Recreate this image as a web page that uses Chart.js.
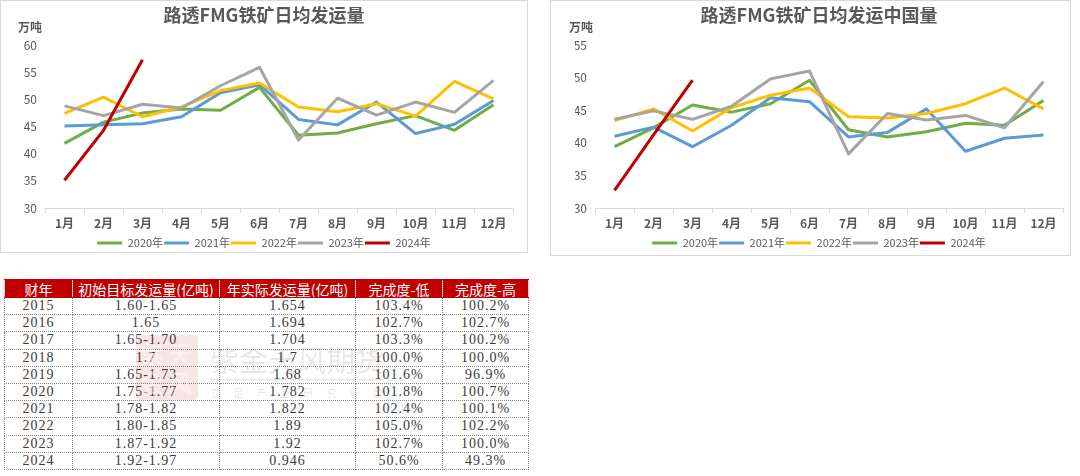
<!DOCTYPE html>
<html>
<head>
<meta charset="utf-8">
<script src="https://cdn.jsdelivr.net/npm/chart.js@4.4.1/dist/chart.umd.min.js"></script>
<style>
html,body{margin:0;padding:0;background:#fff;width:1080px;height:476px;overflow:hidden;position:relative;font-family:"Noto Sans CJK SC","Noto Sans",sans-serif;}
.panel{position:absolute;border:1px solid #D9D9D9;box-sizing:border-box;background:#fff;}
canvas{position:absolute;top:0;}
#tbl{position:absolute;left:4px;top:279px;width:524px;border-collapse:collapse;table-layout:fixed;}
#tbl th,#tbl td{padding:0;text-align:center;white-space:nowrap;overflow:hidden;line-height:14px;box-sizing:border-box;}
#tbl tr.h{height:18px;}
#tbl tr.r{height:17.2px;}
#tbl th{background:#C00000;color:#fff;font-weight:normal;font-size:14px;border:1px dotted #e9a5a5;border-top:1px solid #C00000;border-bottom:1px solid #C00000;font-family:"Noto Sans CJK SC",sans-serif;}
#tbl td{border:1px dotted #8a8a8a;color:#3a3a3a;font-family:"Liberation Serif","Noto Sans CJK SC",serif;font-size:14px;letter-spacing:1px;}
.wm{position:absolute;pointer-events:none;}
</style>
</head>
<body>
<div class="panel" style="left:0;top:0;width:528px;height:253px;"></div>
<div class="panel" style="left:550px;top:0;width:521px;height:256px;"></div>
<canvas id="c1" width="540" height="270" style="left:0;"></canvas>
<canvas id="c2" width="540" height="270" style="left:540px;"></canvas>
<table id="tbl"></table>

<div class="wm" style="left:136px;top:335px;width:62px;height:65px;background:rgba(192,0,0,0.10);border-radius:4px;"></div>
<div class="wm" style="left:140px;top:338px;width:56px;font-size:24px;line-height:29px;color:rgba(255,255,255,0.55);letter-spacing:4px;">紫天<br>金风</div>
<div class="wm" style="left:210px;top:341px;width:180px;font-size:29px;line-height:36px;color:rgba(0,0,0,0.11);white-space:nowrap;">紫金天风期货</div>
<div class="wm" style="left:210px;top:379px;width:173px;height:1px;background:rgba(0,0,0,0.10);"></div>
<div class="wm" style="left:210px;top:386px;width:173px;font-size:10px;line-height:14px;color:rgba(0,0,0,0.13);text-align:justify;text-align-last:justify;">立 足 产 业 研 究 驱 动</div>

<script>
// ---- data ----
const months = ['1月','2月','3月','4月','5月','6月','7月','8月','9月','10月','11月','12月'];
const years = ['2020年','2021年','2022年','2023年','2024年'];

// 路透FMG铁矿日均发运量 (万吨)
const total2020 = [41.9, 45.8, 47.5, 48.2, 48.0, 52.2, 43.4, 43.8, 45.5, 47.0, 44.3, 49.0];
const total2021 = [45.1, 45.3, 45.5, 46.8, 51.2, 52.7, 46.3, 45.3, 49.5, 43.7, 45.4, 49.8];
const total2022 = [47.4, 50.4, 46.8, 48.6, 51.6, 53.0, 48.6, 47.7, 49.2, 46.9, 53.3, 50.1];
const total2023 = [48.8, 47.0, 49.1, 48.4, 52.5, 55.9, 42.5, 50.2, 47.1, 49.5, 47.6, 53.5];
const total2024 = [35.1, 44.3, 57.3];

// 路透FMG铁矿日均发运中国量 (万吨)
const china2020 = [39.4, 42.3, 45.8, 44.7, 46.0, 49.6, 42.0, 40.9, 41.7, 43.0, 42.7, 46.5];
const china2021 = [41.0, 42.4, 39.4, 42.7, 46.9, 46.3, 40.9, 41.6, 45.2, 38.7, 40.7, 41.2];
const china2022 = [43.4, 45.2, 41.8, 45.4, 47.3, 48.4, 44.0, 43.8, 44.5, 46.0, 48.4, 45.2];
const china2023 = [43.6, 44.9, 43.6, 45.6, 49.8, 51.0, 38.3, 44.5, 43.5, 44.2, 42.3, 49.4];
const china2024 = [32.7, 41.2, 49.6];

// table
const tableHeader = ['财年','初始目标发运量(亿吨)','年实际发运量(亿吨)','完成度-低','完成度-高'];
const fiscalYears = ['2015','2016','2017','2018','2019','2020','2021','2022','2023','2024'];
const targetVolume = ['1.60-1.65','1.65','1.65-1.70','1.7','1.65-1.73','1.75-1.77','1.78-1.82','1.80-1.85','1.87-1.92','1.92-1.97'];
const actualVolume = ['1.654','1.694','1.704','1.7','1.68','1.782','1.822','1.89','1.92','0.946'];
const completionLow = ['103.4%','102.7%','103.3%','100.0%','101.6%','101.8%','102.4%','105.0%','102.7%','50.6%'];
const completionHigh = ['100.2%','102.7%','100.2%','100.0%','96.9%','100.7%','100.1%','102.2%','100.0%','49.3%'];

// ---- styles ----
const seriesColors = ['#70AD47','#5B9BD5','#FFC000','#A5A5A5','#C00000'];
const FONT = '"Noto Sans CJK SC","Noto Sans",sans-serif';
const TXT = '#595959';

const unitLabel = {
  id: 'unitLabel',
  afterDraw(chart, args, opts) {
    const ctx = chart.ctx;
    ctx.save();
    ctx.font = 'bold 12px ' + FONT;
    ctx.fillStyle = TXT;
    ctx.textAlign = 'left';
    ctx.textBaseline = 'middle';
    ctx.fillText(opts.text, opts.x, opts.y);
    ctx.restore();
  }
};

function buildDatasets(lists) {
  return lists.map((vals, i) => ({
    label: years[i],
    data: vals,
    borderColor: seriesColors[i],
    backgroundColor: seriesColors[i],
    borderWidth: 3,
    pointRadius: 0,
    pointHoverRadius: 0,
    tension: 0,
    fill: false,
    borderJoinStyle: 'round',
    order: lists.length - i
  }));
}

function makeChart(id, title, lists, yMax, padL, padR, yWidth, unitX) {
  return new Chart(document.getElementById(id), {
    type: 'line',
    data: { labels: months, datasets: buildDatasets(lists) },
    plugins: [unitLabel],
    options: {
      responsive: false,
      animation: false,
      devicePixelRatio: 1,
      layout: { padding: { left: padL, right: padR, top: 0, bottom: 11.5 } },
      plugins: {
        title: { display: true, text: title, color: TXT, font: { family: FONT, size: 18, weight: 'bold', lineHeight: 1.2 }, padding: { top: 4, bottom: 19.4 } },
        legend: {
          position: 'bottom',
          labels: {
            boxWidth: 25, boxHeight: 3, padding: 1, color: TXT,
            font: { family: FONT, size: 11 },
            sort: (a, b) => a.datasetIndex - b.datasetIndex,
            generateLabels(chart) {
              return Chart.defaults.plugins.legend.labels.generateLabels(chart).map(it => Object.assign(it, { fillStyle: it.strokeStyle, lineWidth: 0 }));
            }
          }
        },
        tooltip: { enabled: false },
        unitLabel: { text: '万吨', x: unitX, y: 27 }
      },
      scales: {
        x: {
          offset: true,
          grid: { offset: true, drawOnChartArea: false, drawTicks: true, tickLength: 5, color: '#D9D9D9' },
          border: { display: true, color: '#D9D9D9', width: 1 },
          ticks: { color: TXT, font: { family: FONT, size: 12, weight: 'bold' }, padding: 3, maxRotation: 0, autoSkip: false },
          afterFit(s) { s.height = 28.5; }
        },
        y: {
          min: 30, max: yMax,
          ticks: { stepSize: 5, color: TXT, font: { family: FONT, size: 12 }, padding: 8 },
          grid: { display: false, drawTicks: false },
          border: { display: false },
          afterFit(s) { s.width = yWidth; }
        }
      }
    }
  });
}

makeChart('c1', '路透FMG铁矿日均发运量', [total2020, total2021, total2022, total2023, total2024], 60, 15, 27, 30, 18);
makeChart('c2', '路透FMG铁矿日均发运中国量', [china2020, china2021, china2022, china2023, china2024], 55, 35, 17, 20, 29);

// table
(function () {
  const tbl = document.getElementById('tbl');
  const widths = [68, 147, 136, 87, 86];
  const cg = document.createElement('colgroup');
  widths.forEach(w => { const c = document.createElement('col'); c.style.width = w + 'px'; cg.appendChild(c); });
  tbl.appendChild(cg);
  const hr = document.createElement('tr');
  hr.className = 'h';
  tableHeader.forEach(h => { const th = document.createElement('th'); th.textContent = h; hr.appendChild(th); });
  tbl.appendChild(hr);
  fiscalYears.forEach((y, i) => {
    const tr = document.createElement('tr');
    tr.className = 'r';
    [y, targetVolume[i], actualVolume[i], completionLow[i], completionHigh[i]].forEach(v => {
      const td = document.createElement('td'); td.textContent = v; tr.appendChild(td);
    });
    tbl.appendChild(tr);
  });
})();
</script>
</body>
</html>
